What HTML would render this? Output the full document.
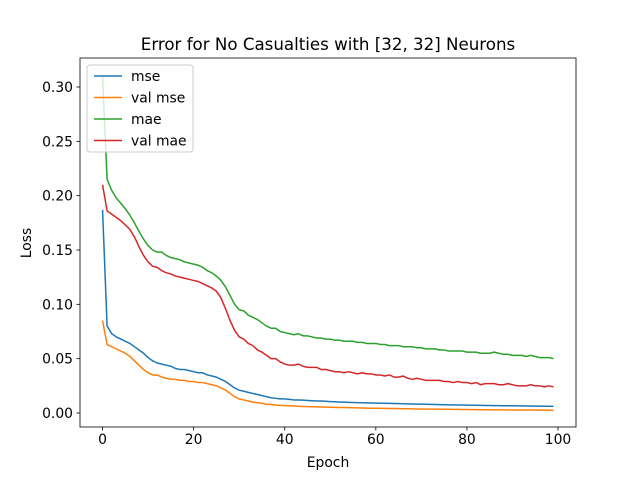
<!DOCTYPE html>
<html><head><meta charset="utf-8"><style>
html,body{margin:0;padding:0;background:#fff;}
svg text{font-family:"DejaVu Sans","Liberation Sans",sans-serif;fill:#000;}
</style></head><body>
<svg id="chart" width="640" height="480" viewBox="0 0 640 480">
<rect width="640" height="480" fill="#fff"/>
<text x="328" y="50" text-anchor="middle" font-size="16.67">Error for No Casualties with [32, 32] Neurons</text>
<g id="plot"></g>
<rect x="80" y="58" width="496" height="369" fill="none" stroke="#000" stroke-width="0.8"/>
<text x="328" y="467" text-anchor="middle" font-size="13.9">Epoch</text>
<text x="31" y="243" text-anchor="middle" font-size="13.9" transform="rotate(-90 31 243)">Loss</text>
<g id="legend"></g>
</svg>
<script>
const seriesNames = ["mse","val mse","mae","val mae"];
const colors = ["#1f77b4","#ff7f0e","#2ca02c","#d62728"];
const xTicks = [0,20,40,60,80,100];
const yTicks = [0,0.05,0.10,0.15,0.20,0.25,0.30];
const yTickLabels = ["0.00","0.05","0.10","0.15","0.20","0.25","0.30"];
const mse = [0.187,0.080,0.073,0.070,0.068,0.066,0.064,0.061,0.058,0.055,0.051,0.048,0.046,0.045,0.044,0.043,0.041,0.040,0.040,0.039,0.038,0.037,0.037,0.035,0.034,0.033,0.031,0.029,0.026,0.023,0.021,0.020,0.019,0.018,0.017,0.016,0.015,0.014,0.0135,0.013,0.013,0.0125,0.012,0.012,0.0118,0.0115,0.0112,0.011,0.011,0.0108,0.0105,0.0103,0.010,0.010,0.0098,0.0097,0.0095,0.0094,0.0093,0.0092,0.0091,0.009,0.0089,0.0088,0.0087,0.0086,0.0085,0.0084,0.0083,0.0082,0.0081,0.008,0.0079,0.0078,0.0077,0.0076,0.0075,0.0075,0.0074,0.0073,0.0072,0.0071,0.0071,0.007,0.0069,0.0069,0.0068,0.0068,0.0067,0.0066,0.0066,0.0065,0.0065,0.0064,0.0064,0.0063,0.0063,0.0062,0.0062,0.0061];
const valMse = [0.085,0.063,0.061,0.059,0.057,0.055,0.052,0.048,0.044,0.040,0.037,0.035,0.035,0.033,0.032,0.031,0.031,0.030,0.030,0.029,0.029,0.028,0.028,0.027,0.026,0.025,0.023,0.021,0.018,0.015,0.013,0.012,0.011,0.010,0.0095,0.009,0.008,0.0078,0.0072,0.007,0.0068,0.0066,0.0064,0.0062,0.006,0.0058,0.0057,0.0056,0.0055,0.0054,0.0053,0.0052,0.0051,0.005,0.0049,0.0048,0.0047,0.0046,0.0045,0.0044,0.0044,0.0043,0.0042,0.0041,0.0041,0.004,0.0039,0.0039,0.0038,0.0037,0.0037,0.0036,0.0036,0.0035,0.0035,0.0034,0.0034,0.0033,0.0033,0.0032,0.0032,0.0031,0.0031,0.003,0.003,0.003,0.0029,0.0029,0.0029,0.0028,0.0028,0.0028,0.0027,0.0027,0.0027,0.0026,0.0026,0.0026,0.0025,0.0025];
const mae = [0.310,0.215,0.205,0.198,0.193,0.188,0.182,0.175,0.167,0.160,0.154,0.150,0.148,0.148,0.145,0.143,0.142,0.141,0.139,0.138,0.137,0.136,0.134,0.131,0.129,0.126,0.122,0.116,0.108,0.100,0.095,0.094,0.090,0.088,0.086,0.083,0.080,0.078,0.078,0.075,0.074,0.073,0.072,0.073,0.071,0.071,0.070,0.069,0.069,0.068,0.068,0.067,0.067,0.066,0.066,0.066,0.065,0.065,0.064,0.064,0.064,0.063,0.063,0.062,0.062,0.062,0.061,0.061,0.061,0.060,0.060,0.059,0.059,0.059,0.058,0.058,0.057,0.057,0.057,0.057,0.056,0.056,0.056,0.055,0.055,0.055,0.056,0.055,0.054,0.054,0.053,0.053,0.053,0.052,0.053,0.052,0.051,0.051,0.051,0.050];
const valMae = [0.210,0.186,0.183,0.180,0.177,0.173,0.169,0.162,0.153,0.145,0.139,0.135,0.134,0.131,0.129,0.128,0.126,0.125,0.124,0.123,0.122,0.121,0.119,0.117,0.115,0.112,0.106,0.096,0.085,0.076,0.070,0.068,0.064,0.062,0.058,0.056,0.053,0.050,0.050,0.047,0.045,0.044,0.044,0.045,0.043,0.042,0.042,0.042,0.040,0.040,0.039,0.038,0.038,0.037,0.038,0.037,0.036,0.037,0.036,0.036,0.035,0.035,0.034,0.035,0.033,0.033,0.034,0.032,0.031,0.032,0.031,0.030,0.030,0.030,0.030,0.029,0.029,0.028,0.029,0.028,0.028,0.027,0.028,0.026,0.027,0.027,0.027,0.026,0.026,0.027,0.026,0.025,0.025,0.025,0.026,0.025,0.025,0.024,0.025,0.024];
const allSeries = [mse, valMse, mae, valMae];

const NS = "http://www.w3.org/2000/svg";
const L = 80, R = 576, T = 58, B = 427;
const xMin = -4.95, xMax = 103.95, yMin = -0.0129, yMax = 0.3267;
function xs(v){ return L + (v - xMin) / (xMax - xMin) * (R - L); }
function ys(v){ return B - (v - yMin) / (yMax - yMin) * (B - T); }
function mk(tag, attrs, parent){ const e = document.createElementNS(NS, tag); for (const k in attrs) e.setAttribute(k, attrs[k]); parent.appendChild(e); return e; }
const plot = document.getElementById("plot");

xTicks.forEach(t => {
  const g = mk("g", {}, plot);
  
  
  mk("line", {x1: xs(t), x2: xs(t), y1: B, y2: B + 3.5, stroke: "#000", "stroke-width": 0.8}, g);
  const tx = mk("text", {x: xs(t), y: B + 17, "text-anchor": "middle", "font-size": 13.9}, g);
  tx.textContent = String(t);
});
yTicks.forEach((t, i) => {
  const g = mk("g", {}, plot);
  
  
  mk("line", {x1: L - 3.5, x2: L, y1: ys(t), y2: ys(t), stroke: "#000", "stroke-width": 0.8}, g);
  const tx = mk("text", {x: L - 7, y: ys(t) + 5, "text-anchor": "end", "font-size": 13.9}, g);
  tx.textContent = yTickLabels[i];
});
allSeries.forEach((s, i) => {
  const d = s.map((v, j) => (j ? "L" : "M") + xs(j).toFixed(2) + "," + ys(v).toFixed(2)).join("");
  const p = mk("path", {d: d, fill: "none", stroke: colors[i], "stroke-width": 1.5, "stroke-linejoin": "round"}, plot);
  
  
});

const lg = document.getElementById("legend");
mk("rect", {x: 87, y: 65, width: 106, height: 87, rx: 3, fill: "#fff", "fill-opacity": 0.8, stroke: "#ccc", "stroke-width": 1}, lg);
seriesNames.forEach((n, i) => {
  const g = mk("g", {}, lg);
  
  
  const y = 76 + i * 21.5;
  mk("line", {x1: 94, x2: 122, y1: y, y2: y, stroke: colors[i], "stroke-width": 1.5}, g);
  const tx = mk("text", {x: 131, y: y + 5, "font-size": 13.9}, g);
  tx.textContent = n;
});
</script>
</body></html>
